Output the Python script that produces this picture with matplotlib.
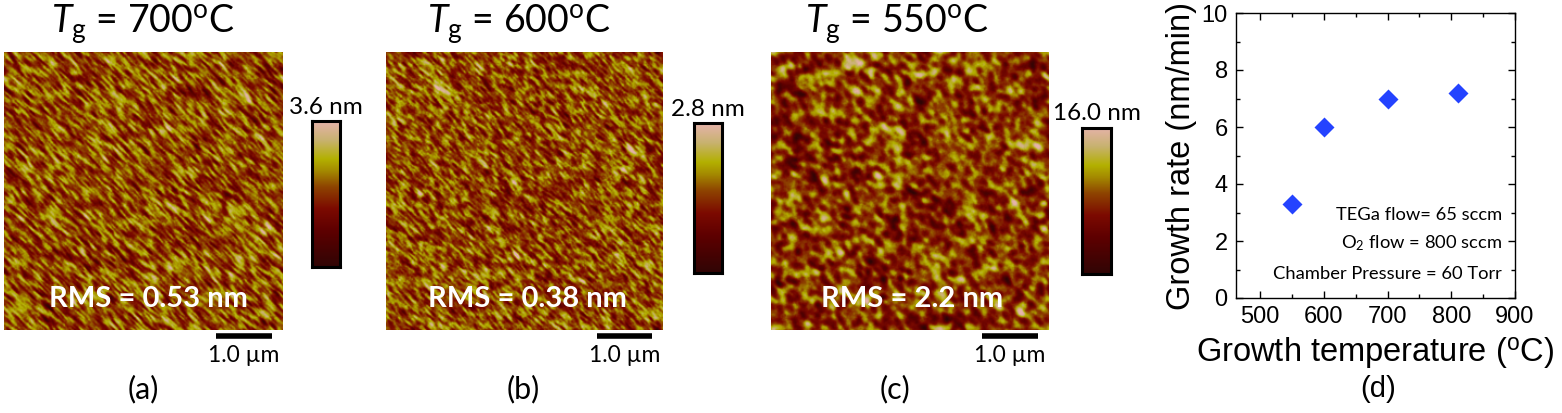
import numpy as np
import matplotlib
matplotlib.use("Agg")
import matplotlib.pyplot as plt
from matplotlib.colors import LinearSegmentedColormap
from matplotlib.ticker import MultipleLocator

# ---- data ----
afm_temps = [700, 600, 550]          # growth temperature of each AFM scan (C)
rms_nm = ["0.53", "0.38", "2.2"]      # RMS roughness labels
zrange_nm = ["3.6", "2.8", "16.0"]    # colour-bar maxima
scan_um = 5.0                         # AFM scan size
bar_um = 1.0                          # scale bar length
panel_tags = ["(a)", "(b)", "(c)", "(d)"]

growth_T = [550, 600, 700, 810]       # growth temperature (C)
growth_rate = [3.3, 6.0, 7.0, 7.2]    # nm/min
notes = ["TEGa flow= 65 sccm",
         r"O$_\mathregular{2}$ flow = 800 sccm",
         "Chamber Pressure = 60 Torr"]

W, H = 1562, 413
plt.rcParams["mathtext.fontset"] = "custom"
plt.rcParams["mathtext.rm"] = "Lato"
plt.rcParams["mathtext.it"] = "Lato:italic"

afm_cmap = LinearSegmentedColormap.from_list("afm", [
    (0.00, "#300505"), (0.25, "#5e0000"), (0.40, "#7c0a00"),
    (0.55, "#8e4400"), (0.66, "#a48a00"), (0.74, "#b3b000"),
    (0.87, "#c8b270"), (1.00, "#e6b3ab")])


def box(x0, y0, x1, y1):
    # pixel box -> figure fraction
    return [x0 / W, 1 - y1 / H, (x1 - x0) / W, (y1 - y0) / H]


def fx(x):
    return x / W


def fy(y):
    return 1 - y / H


def surface(seed, s_along, s_across, n=256):
    # stand-in surface texture for the AFM scan (not measured data)
    rng = np.random.default_rng(seed)
    noise = rng.standard_normal((n, n))
    off = np.fft.fftfreq(n) * n
    R, C = np.meshgrid(off, off, indexing="ij")
    a = (C + R) / np.sqrt(2)
    b = (C - R) / np.sqrt(2)
    K = np.exp(-0.5 * (a / s_along) ** 2 - 0.5 * (b / s_across) ** 2)
    f = np.real(np.fft.ifft2(np.fft.fft2(noise) * np.fft.fft2(K)))
    return (f - f.mean()) / f.std()


def add_spots(z, spots, n=256):
    yy, xx = np.mgrid[0:n, 0:n] / n
    for sx, sy, s in spots:
        a = ((xx - sx) + (yy - sy)) / np.sqrt(2)
        b = ((xx - sx) - (yy - sy)) / np.sqrt(2)
        z = z + 2.5 * np.exp(-0.5 * (a / (2 * s)) ** 2 - 0.5 * (b / s) ** 2)
    return z


tex_a = surface(3, 3.2, 0.9) + 0.2 * surface(4, 0.7, 0.7)
img_a = 0.55 + 0.13 * tex_a

spots_b = [(0.196, 0.126, 0.018), (0.892, 0.084, 0.016), (0.892, 0.35, 0.011),
           (0.14, 0.036, 0.006), (0.47, 0.31, 0.006), (0.54, 0.26, 0.006),
           (0.40, 0.38, 0.006), (0.46, 0.47, 0.006), (0.24, 0.51, 0.006),
           (0.12, 0.51, 0.005), (0.88, 0.55, 0.006), (0.98, 0.63, 0.006),
           (0.60, 0.66, 0.006), (0.21, 0.77, 0.007), (0.47, 0.73, 0.006),
           (0.51, 0.81, 0.006), (0.71, 0.82, 0.006), (0.65, 0.95, 0.006),
           (0.94, 0.76, 0.006), (0.08, 0.36, 0.005), (0.68, 0.13, 0.005)]
tex_b = surface(7, 2.4, 0.9) + 0.25 * surface(8, 0.7, 0.7)
img_b = 0.54 + 0.12 * add_spots(tex_b, spots_b)

tex_c = surface(11, 2.6, 2.0) + 0.12 * surface(12, 0.7, 0.7)
img_c = 0.50 + 0.15 * tex_c

images = [img_a, img_b, img_c]

# pixel layout of the three AFM panels
img_boxes = [(4, 52, 283, 330), (386, 52, 663, 330), (771, 52, 1049, 330)]
cbar_boxes = [(312, 121, 340, 267), (694, 123, 722, 273), (1082, 128, 1111, 274)]
title_x = [143, 519, 897]
rms_x = [148, 527, 912]
tag_x = [143, 523, 895]

fig = plt.figure(figsize=(W / 100, H / 100), dpi=100)

for k in range(3):
    ax = fig.add_axes(box(*img_boxes[k]))
    ax.imshow(np.clip(images[k], 0, 1), cmap=afm_cmap, vmin=0, vmax=1,
              extent=[0, scan_um, 0, scan_um], interpolation="bilinear",
              aspect="auto")
    ax.set_xlim(0, scan_um)
    ax.set_ylim(0, scan_um)
    ax.axis("off")
    # scale bar
    ax.plot([scan_um - 0.2 - bar_um, scan_um - 0.2], [-0.11, -0.11],
            color="black", lw=4, solid_capstyle="butt", clip_on=False)
    ax.text(scan_um - 0.2 - bar_um / 2, -0.45, f"{bar_um:.1f} µm",
            ha="center", va="center", fontsize=16.5, family="Lato")
    fig.text(fx(rms_x[k]), fy(299), f"RMS = {rms_nm[k]} nm", color="white",
             fontsize=21, fontweight="bold", family="Lato",
             ha="center", va="center")

    # colour bar
    cax = fig.add_axes(box(*cbar_boxes[k]))
    grad = np.linspace(0, 1, 256)[:, None]
    cax.imshow(grad, cmap=afm_cmap, aspect="auto", origin="lower",
               extent=[0, 1, 0, 1])
    cax.set_xticks([])
    cax.set_yticks([])
    for sp in cax.spines.values():
        sp.set_linewidth(2.2)
        sp.set_color("black")
    cx = (cbar_boxes[k][0] + cbar_boxes[k][2]) / 2
    fig.text(fx(cx), fy(cbar_boxes[k][1] - 14), f"{zrange_nm[k]} nm",
             fontsize=17.5, family="Lato", ha="center", va="center")

    fig.text(fx(title_x[k]), fy(24),
             r"$T_\mathrm{g}$ = " + f"{afm_temps[k]}" + r"$^\mathrm{o}$C",
             fontsize=27, family="Lato", ha="center", va="center")
    fig.text(fx(tag_x[k]), fy(389), panel_tags[k], fontsize=22,
             family="Lato", ha="center", va="center")

# ---- growth-rate panel ----
ax = fig.add_axes(box(1236, 13, 1515, 298))
ax.plot(growth_T, growth_rate, "D", color="#2443ff", ms=10, mec="none")
ax.set_xlim(462, 900)
ax.set_ylim(0, 10)
ax.xaxis.set_major_locator(MultipleLocator(100))
ax.xaxis.set_minor_locator(MultipleLocator(50))
ax.yaxis.set_major_locator(MultipleLocator(2))
ax.yaxis.set_minor_locator(MultipleLocator(1))
ax.tick_params(which="both", direction="in", top=True, right=True)
ax.tick_params(which="major", length=5, width=1, labelsize=17, pad=6)
ax.tick_params(which="minor", length=3, width=1)
for lab in ax.get_xticklabels() + ax.get_yticklabels():
    lab.set_family("Liberation Sans")
for sp in ax.spines.values():
    sp.set_linewidth(1)
ax.set_xlabel(r"Growth temperature ($^\mathregular{o}$C)", fontsize=23.5,
              family="Liberation Sans", labelpad=5)
ax.set_ylabel("Growth rate (nm/min)", fontsize=23.5, family="Liberation Sans",
              labelpad=3)
note_y = [215, 243, 274]
for txt, yy in zip(notes, note_y):
    fig.text(fx(1502), fy(yy), txt, fontsize=13.2, family="Lato",
             ha="right", va="center")
fig.text(fx(1378), fy(389), panel_tags[3], fontsize=21,
         family="Liberation Sans", ha="center", va="center")

fig.savefig("out.png", dpi=100)
